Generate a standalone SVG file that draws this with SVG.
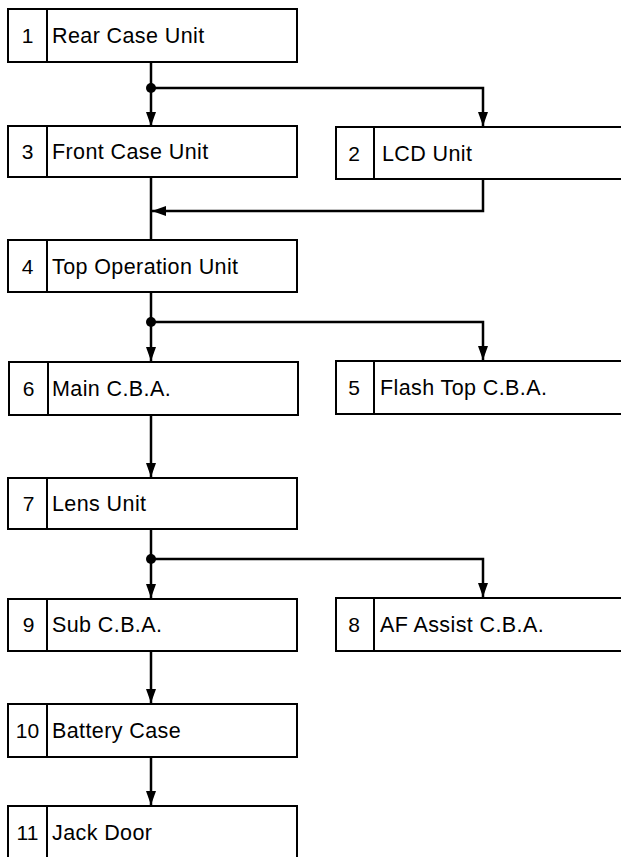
<svg xmlns="http://www.w3.org/2000/svg" width="621" height="857" viewBox="0 0 621 857">
<defs>
<style>
.box{fill:#fff;stroke:#000;stroke-width:2}
.div{stroke:#000;stroke-width:2}
.num{font-family:"Liberation Sans",Arial,sans-serif;font-size:21px;text-anchor:middle;fill:#000}
.lbl{font-family:"Liberation Sans",Arial,sans-serif;font-size:21.5px;letter-spacing:0.4px;fill:#000}
.con{fill:none;stroke:#000;stroke-width:2.5}
</style>
<marker id="ah" viewBox="0 0 14 10" refX="14" refY="5" markerWidth="14" markerHeight="10" markerUnits="userSpaceOnUse" orient="auto">
<path d="M0,0 L14,5 L0,10 Z" fill="#000"/>
</marker>
</defs>
<rect width="621" height="857" fill="#fff"/>
<g id="connectors">
<line class="con" x1="151" y1="62" x2="151" y2="126" marker-end="url(#ah)"/>
<polyline class="con" points="151,88 483,88 483,126" marker-end="url(#ah)"/>
<circle cx="151" cy="88" r="5" fill="#000"/>
<line class="con" x1="151" y1="178" x2="151" y2="240"/>
<polyline class="con" points="483,179 483,211 152,211" marker-end="url(#ah)"/>
<line class="con" x1="151" y1="292" x2="151" y2="361" marker-end="url(#ah)"/>
<polyline class="con" points="151,322 483,322 483,360" marker-end="url(#ah)"/>
<circle cx="151" cy="322" r="5" fill="#000"/>
<line class="con" x1="151" y1="415" x2="151" y2="477" marker-end="url(#ah)"/>
<line class="con" x1="151" y1="529" x2="151" y2="598" marker-end="url(#ah)"/>
<polyline class="con" points="151,559 483,559 483,597" marker-end="url(#ah)"/>
<circle cx="151" cy="559" r="5" fill="#000"/>
<line class="con" x1="151" y1="651" x2="151" y2="703" marker-end="url(#ah)"/>
<line class="con" x1="151" y1="757" x2="151" y2="805" marker-end="url(#ah)"/>
</g>
<g id="node1"><rect class="box" x="8" y="9" width="289" height="53"/><line class="div" x1="47" y1="9" x2="47" y2="62"/><text class="num" x="27.5" y="43">1</text><text class="lbl" x="52" y="43">Rear Case Unit</text></g>
<g id="node3"><rect class="box" x="8" y="126" width="289" height="51"/><line class="div" x1="47" y1="126" x2="47" y2="177"/><text class="num" x="27.5" y="159">3</text><text class="lbl" x="52" y="159">Front Case Unit</text></g>
<g id="node2"><rect class="box" x="336" y="127" width="300" height="52"/><line class="div" x1="374" y1="127" x2="374" y2="179"/><text class="num" x="354" y="161">2</text><text class="lbl" x="382" y="161">LCD Unit</text></g>
<g id="node4"><rect class="box" x="8" y="240" width="289" height="52"/><line class="div" x1="47" y1="240" x2="47" y2="292"/><text class="num" x="27.5" y="274">4</text><text class="lbl" x="52" y="274">Top Operation Unit</text></g>
<g id="node6"><rect class="box" x="9" y="362" width="289" height="53"/><line class="div" x1="48" y1="362" x2="48" y2="415"/><text class="num" x="28.5" y="396">6</text><text class="lbl" x="52" y="396">Main C.B.A.</text></g>
<g id="node5"><rect class="box" x="336" y="361" width="300" height="53"/><line class="div" x1="374" y1="361" x2="374" y2="414"/><text class="num" x="354" y="395">5</text><text class="lbl" x="380" y="395">Flash Top C.B.A.</text></g>
<g id="node7"><rect class="box" x="8" y="478" width="289" height="51"/><line class="div" x1="47" y1="478" x2="47" y2="529"/><text class="num" x="28.5" y="511">7</text><text class="lbl" x="52" y="511">Lens Unit</text></g>
<g id="node9"><rect class="box" x="8" y="599" width="289" height="52"/><line class="div" x1="47" y1="599" x2="47" y2="651"/><text class="num" x="28.5" y="632">9</text><text class="lbl" x="52" y="632">Sub C.B.A.</text></g>
<g id="node8"><rect class="box" x="336" y="598" width="300" height="53"/><line class="div" x1="374" y1="598" x2="374" y2="651"/><text class="num" x="354" y="632">8</text><text class="lbl" x="380" y="632">AF Assist C.B.A.</text></g>
<g id="node10"><rect class="box" x="8" y="704" width="289" height="53"/><line class="div" x1="47" y1="704" x2="47" y2="757"/><text class="num" x="27.5" y="738">10</text><text class="lbl" x="52" y="738">Battery Case</text></g>
<g id="node11"><rect class="box" x="8" y="806" width="289" height="70"/><line class="div" x1="47" y1="806" x2="47" y2="876"/><text class="num" x="27.5" y="840">11</text><text class="lbl" x="52" y="840">Jack Door</text></g>
</svg>
